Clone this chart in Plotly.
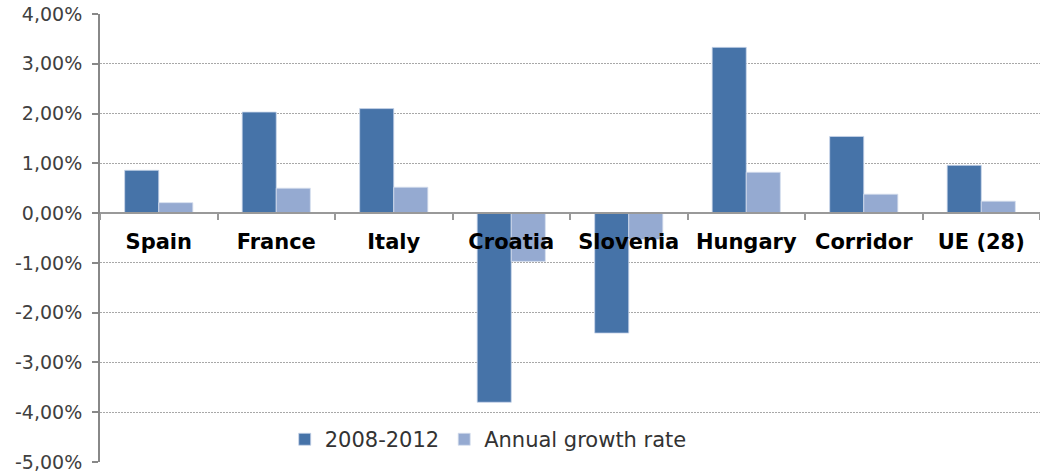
import plotly.graph_objects as go

# Categories and series (growth rates, in %)
countries = ["Spain", "France", "Italy", "Croatia", "Slovenia", "Hungary", "Corridor", "UE (28)"]
period_2008_2012 = [0.86, 2.03, 2.10, -3.80, -2.41, 3.33, 1.54, 0.96]
annual_growth = [0.21, 0.50, 0.52, -0.97, -0.53, 0.82, 0.38, 0.24]

# Y axis ticks
y_ticks = [4, 3, 2, 1, 0, -1, -2, -3, -4, -5]
y_tick_labels = ["4,00%", "3,00%", "2,00%", "1,00%", "0,00%",
                 "-1,00%", "-2,00%", "-3,00%", "-4,00%", "-5,00%"]

dark_blue = "#4673A8"
light_blue = "#95AAD1"

fig = go.Figure()
fig.add_trace(go.Bar(x=countries, y=period_2008_2012, name="2008-2012",
                     marker=dict(color=dark_blue, line=dict(color="#C9D6EA", width=0.8))))
fig.add_trace(go.Bar(x=countries, y=annual_growth, name="Annual growth rate",
                     marker=dict(color=light_blue, line=dict(color="#D5DEEE", width=0.8))))

fig.update_layout(
    width=1040, height=474,
    margin=dict(l=100, r=0, t=14, b=12, autoexpand=False),
    plot_bgcolor="white", paper_bgcolor="white",
    barmode="group", bargap=0.42, bargroupgap=0,
    font=dict(family="DejaVu Sans", color="#404040"),
    legend=dict(orientation="h", x=0.413, xanchor="center", y=0.05, yanchor="middle",
                font=dict(size=21, color="#333333"), bgcolor="rgba(0,0,0,0)",
                itemwidth=30, tracegroupgap=0),
    xaxis=dict(
        type="category", range=[-0.5, 7.5],
        anchor="free", position=5 / 9, automargin=False,
        showline=True, linecolor="#999999", linewidth=2,
        ticks="outside", tickson="boundaries", ticklen=6, tickcolor="#999999", tickwidth=2,
        tickfont=dict(family="DejaVu Sans", size=21, color="black", weight="bold"),
        ticklabelstandoff=10,
        showgrid=False, zeroline=False,
    ),
    yaxis=dict(
        range=[-5, 4], tickvals=y_ticks, ticktext=y_tick_labels, automargin=False,
        showline=True, linecolor="#888888", linewidth=2,
        ticks="outside", ticklen=6, tickcolor="#888888", tickwidth=2,
        tickfont=dict(size=19, color="#404040"), ticklabelstandoff=6,
        showgrid=True, gridcolor="#A8A8A8", griddash="1.5px,1.5px", gridwidth=1.2,
        zeroline=False,
    ),
)

# drop the page's default body margin so the figure sits at the window's corner
fig.write_html("out.html", config={"displayModeBar": False},
               post_script="document.body.style.margin='0';")
